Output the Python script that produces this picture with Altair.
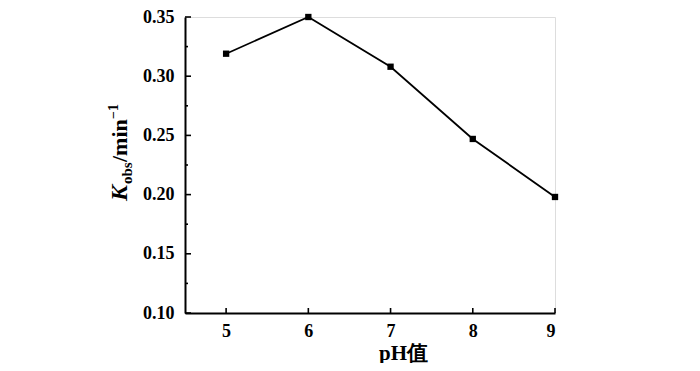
import altair as alt
import pandas as pd

# ---- data ----
ph = [5, 6, 7, 8, 9]
kobs = [0.319, 0.350, 0.308, 0.247, 0.198]
x_ticks = [5, 6, 7, 8, 9]
y_major = [0.10, 0.15, 0.20, 0.25, 0.30, 0.35]
y_minor = [0.125, 0.175, 0.225, 0.275, 0.325]
x_title = "pH值"
y_title_parts = ["K", "obs", "/min", "−1"]

FONT = "Liberation Serif"
TOP = 9
W, H = 370, 305 - TOP

df = pd.DataFrame({"pH": ph, "k": kobs})
xs = alt.Scale(domain=[4.5, 9], nice=False, zero=False)
ys = alt.Scale(domain=[0.10, 0.35], nice=False, zero=False)

x_axis = alt.Axis(
    values=x_ticks, format="d", ticks=False, grid=False,
    domainColor="black", domainWidth=2,
    labelFont=FONT, labelFontSize=18, labelFontWeight="bold", labelColor="black",
    labelPadding=9,
    title=x_title, titleFont=FONT, titleFontSize=21, titleFontWeight="bold",
    titleColor="black", titleX=218, titleY=46, titleBaseline="alphabetic",
    titleAlign="center",
)
y_axis = alt.Axis(
    values=y_major, format=".2f", ticks=False, grid=False,
    domainColor="black", domainWidth=2,
    labelFont=FONT, labelFontSize=18, labelFontWeight="bold", labelColor="black",
    labelPadding=11,
    title=None,
)

line = alt.Chart(df).mark_line(color="black", strokeWidth=1.8).encode(
    x=alt.X("pH:Q", scale=xs, axis=x_axis),
    y=alt.Y("k:Q", scale=ys, axis=y_axis),
)
points = alt.Chart(df).mark_point(
    shape="square", filled=True, size=40, color="black", opacity=1
).encode(x=alt.X("pH:Q", scale=xs), y=alt.Y("k:Q", scale=ys))

# inward ticks
ymaj = alt.Chart(pd.DataFrame({"k": y_major})).mark_rule(
    color="black", strokeWidth=1.6
).encode(y=alt.Y("k:Q", scale=ys), x=alt.value(0), x2=alt.value(6))
ymin = alt.Chart(pd.DataFrame({"k": y_minor})).mark_rule(
    color="black", strokeWidth=1.6
).encode(y=alt.Y("k:Q", scale=ys), x=alt.value(0), x2=alt.value(3))
xmaj = alt.Chart(pd.DataFrame({"pH": x_ticks})).mark_rule(
    color="black", strokeWidth=1.6
).encode(x=alt.X("pH:Q", scale=xs), y=alt.value(H), y2=alt.value(H - 5))

# y title composed of pieces (italic K, subscript, superscript)
one = pd.DataFrame({"a": [0]})
def piece(txt, size, xpos, ypos, italic=False):
    return alt.Chart(one).mark_text(
        text=txt, angle=270, align="left", baseline="alphabetic",
        font=FONT, fontSize=size, fontWeight="bold",
        fontStyle="italic" if italic else "normal", color="black",
    ).encode(x=alt.value(xpos), y=alt.value(ypos))

t_k = piece(y_title_parts[0], 24, -58, 191 - (TOP - 2), italic=True)
t_obs = piece(y_title_parts[1], 15, -53, 174 - (TOP - 2))
t_min = piece(y_title_parts[2], 22, -58, 152 - (TOP - 2))
t_sup = piece(y_title_parts[3], 14, -67, 109 - (TOP - 2))

chart = alt.layer(
    line, points, ymaj, ymin, xmaj, t_k, t_obs, t_min, t_sup
).properties(
    width=W, height=H,
    autosize=alt.AutoSizeParams(type="none"),
    padding={"left": 177, "top": TOP, "right": 137, "bottom": 50},
).configure_view(stroke=None).configure(background="white")

chart.save("out.html", embed_options={"renderer": "svg", "actions": False})
